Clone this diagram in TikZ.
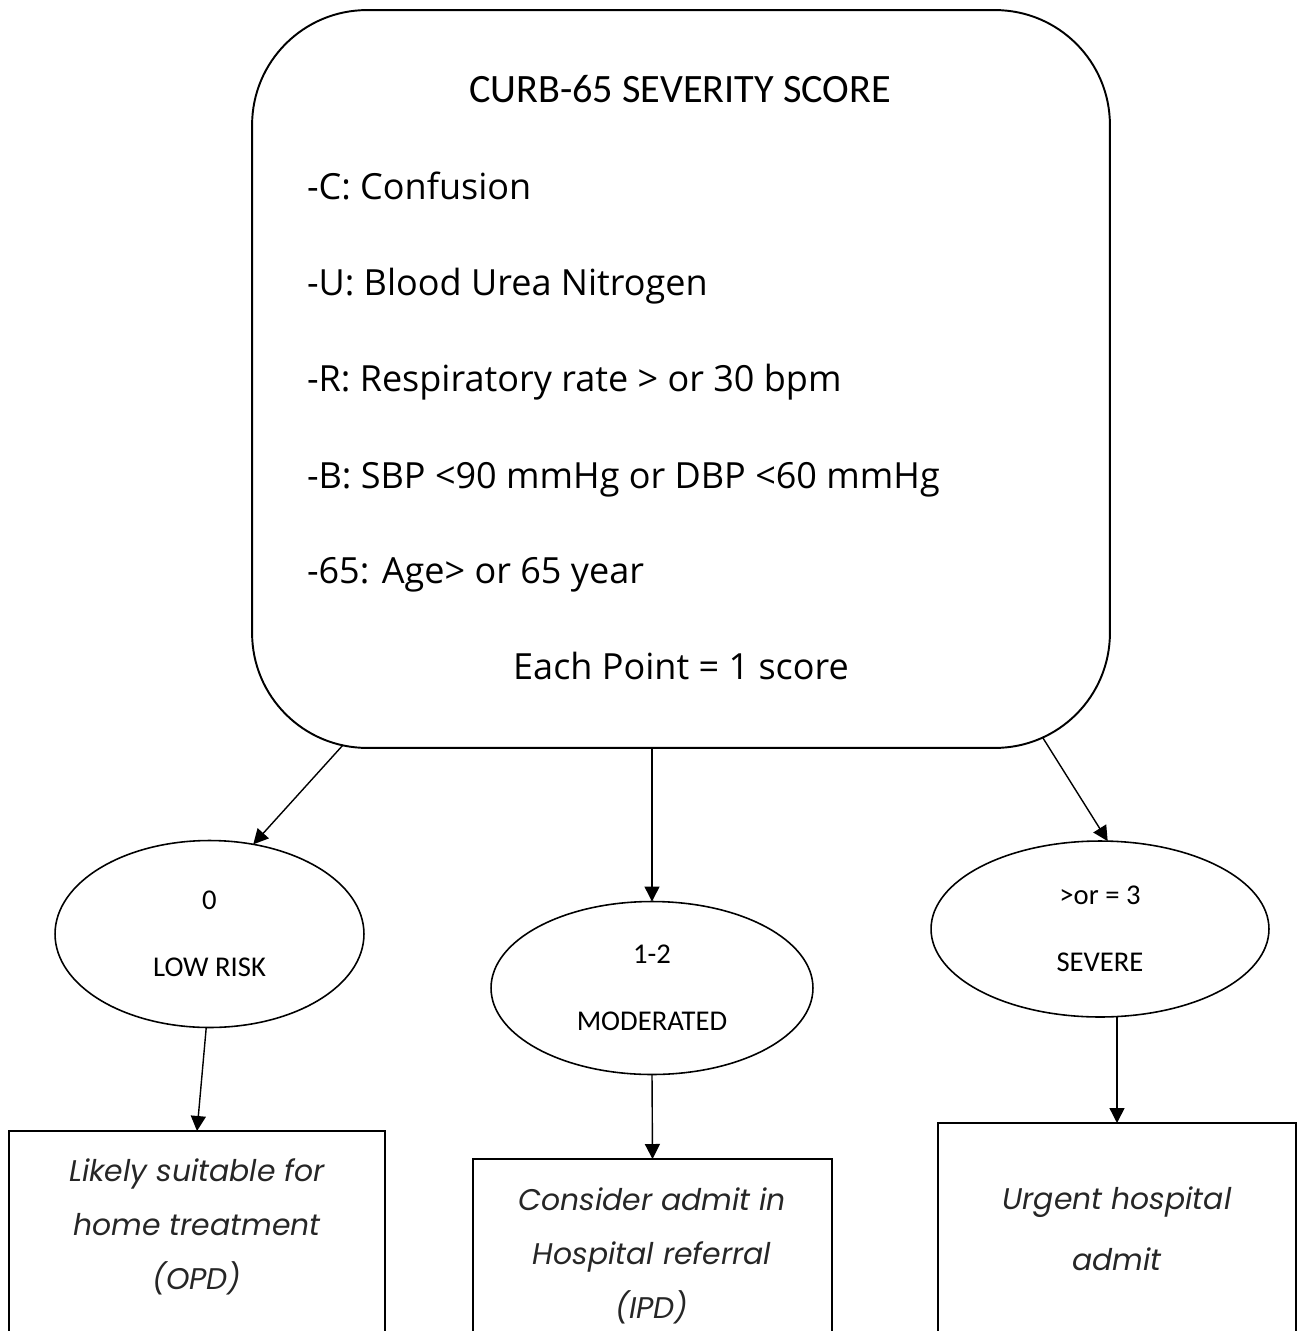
\documentclass[tikz,border=0pt]{standalone}
\usepackage{fontspec}
\setmainfont{Open Sans}
\newfontfamily\calib{Carlito}
\newfontfamily\popp{Poppins}
\usetikzlibrary{arrows.meta,shapes.geometric,calc}
\begin{document}
\begin{tikzpicture}[x=0.02cm,y=-0.02cm,
  every node/.style={inner sep=0pt, outer sep=0pt},
  scorebox/.style={draw, line width=1.1pt, rounded corners=2.3cm,
    minimum width=17.16cm, minimum height=14.76cm},
  riskoval/.style={draw, ellipse, line width=0.9pt, align=center,
    font=\calib\fontsize{16.3}{38}\selectfont},
  careplan/.style={draw, line width=0.9pt, anchor=north, minimum height=5cm},
  careline/.style={align=center, text=black!85,
    font=\popp\itshape\fontsize{17}{30.6}\selectfont},
  item/.style={anchor=base west, font=\fontsize{20.5}{24}\selectfont},
  link/.style={line width=0.8pt, -{Triangle[length=0.3cm,width=0.3cm]}}]
\useasboundingbox (0,0) rectangle (1300,1331);

% score card
\node[scorebox] (main) at (681,379) {};
\node[anchor=base, font=\calib\fontsize{22.9}{26}\selectfont] (title) at (680,103) {CURB-65 SEVERITY SCORE};
\node[item] (ic) at (307,199) {-C: Confusion};
\node[item] (iu) at (307,295) {-U: Blood Urea Nitrogen};
\node[item] (ir) at (307,391) {-R: Respiratory rate > or 30 bpm};
\node[item] (ib) at (307,488) {-B: SBP <90 mmHg or DBP <60 mmHg};
\node[item] (ia) at (307,583) {-65: Age> or 65 year};
\node[item, anchor=base] (each) at (681,679) {Each Point = 1 score};

% risk groups
\node[riskoval, minimum width=6.18cm, minimum height=3.74cm] (low) at (209.5,934) {0\\LOW RISK};
\node[riskoval, minimum width=6.44cm, minimum height=3.46cm] (mod) at (652,988) {1-2\\MODERATED};
\node[riskoval, minimum width=6.76cm, minimum height=3.52cm] (sev) at (1100,929) {>or = 3\\SEVERE};

% management boxes
\node[careplan, minimum width=7.52cm] (opd) at (197,1131) {};
\node[careplan, minimum width=7.18cm] (ipd) at (652.5,1159) {};
\node[careplan, minimum width=7.16cm] (urg) at (1117,1123) {};

\node[careline] (opdtext) at (197,1227) {Likely suitable for\\home treatment\\(OPD)};
\node[careline] (ipdtext) at (652,1256) {Consider admit in\\Hospital referral\\(IPD)};
\node[careline, font=\popp\itshape\fontsize{17}{35}\selectfont] (urgtext) at (1117,1229) {Urgent hospital\\admit};

% connectors
\draw[link] ($(main.south west)+(91,-3)$) -- (low.64);
\draw[link] (main.south -| mod.north) -- (mod.north);
\draw[link] ($(main.south east)+(-67,-10)$) -- (sev.85);
\draw[link] (low.268) -- (opd.north);
\draw[link] (mod.south) -- (ipd.north);
\draw[link] (sev.south -| urg.north) -- (urg.north);
\end{tikzpicture}
\end{document}
